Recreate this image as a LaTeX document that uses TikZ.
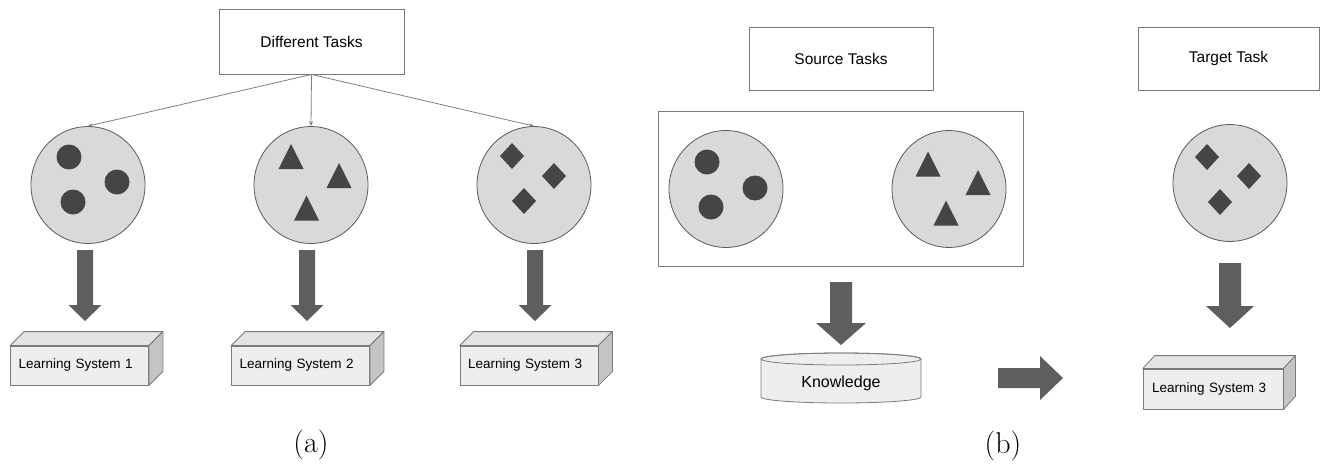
\documentclass[tikz,border=0pt]{standalone}
\usepackage{fontspec}
\newfontfamily\arialfont{Liberation Sans}
\usetikzlibrary{shapes.geometric,arrows.meta}
\definecolor{ellfill}{HTML}{D9D9D9}
\definecolor{ellline}{HTML}{5A5A5A}
\definecolor{shapecol}{HTML}{454545}
\definecolor{arrcol}{HTML}{5E5E5E}
\definecolor{boxline}{HTML}{7A7A7A}
\definecolor{frontfill}{HTML}{EEEEEE}
\definecolor{topfill}{HTML}{E4E4E4}
\definecolor{sidefill}{HTML}{C4C4C4}
\definecolor{thinarr}{HTML}{808080}
\newcommand\mycirc[2]{\fill[shapecol] (#1,#2) circle[radius=12.5];}
\newcommand\mytri[2]{\fill[shapecol] (#1-12.5,#2+12.5) -- (#1,#2-12.5) -- (#1+12.5,#2+12.5) -- cycle;}
\newcommand\mydia[2]{\fill[shapecol] (#1-12,#2) -- (#1,#2-13) -- (#1+12,#2) -- (#1,#2+13) -- cycle;}
% cx, top, tip, shaft half, head half, head length
\newcommand\blockdown[6]{\fill[arrcol] (#1-#4,#2) -- (#1+#4,#2) -- (#1+#4,#3-#6) -- (#1+#5,#3-#6) -- (#1,#3) -- (#1-#5,#3-#6) -- (#1-#4,#3-#6) -- cycle;}
\tikzset{
  titlebox/.style={draw=boxline, line width=0.9pt, fill=white, inner sep=0pt, font=\arialfont\fontsize{15.5}{18}\selectfont},
  taskell/.style={ellipse, draw=ellline, line width=0.8pt, fill=ellfill, inner sep=0pt, minimum width=114, minimum height=117},
  lsfront/.style={draw=boxline, line width=0.8pt, fill=frontfill, inner xsep=8pt, inner ysep=0pt, minimum height=39, text width=122pt, align=left, font=\arialfont\fontsize{13.5}{16}\selectfont},
  lsface/.style={draw=boxline, line width=0.8pt, line join=round},
  thin/.style={draw=thinarr, line width=0.8pt, -{Stealth[length=5pt,width=4pt]}},
  sublabel/.style={font=\fontsize{30}{36}\selectfont}
}
\begin{document}
\begin{tikzpicture}[x=1pt,y=-1pt]
\useasboundingbox (0,0) rectangle (1321,469);
% ---------- (a) ----------
\node[titlebox, minimum width=185, minimum height=65] (dt) at (311.5,41.5) {Different Tasks};
\node[taskell] (e1) at (88,185) {};
\node[taskell] (e2) at (311,185) {};
\node[taskell] (e3) at (534,185) {};
\draw[thin] (dt.south) -- (e1.north);
\draw[thin] (dt.south) -- (e2.north);
\draw[thin] (dt.south) -- (e3.north);
\mycirc{69}{157}\mycirc{117}{182}\mycirc{73}{202}
\mytri{291}{156.5}\mytri{339}{175.5}\mytri{306.5}{208}
\mydia{512}{156}\mydia{554}{176}\mydia{524}{201}
\blockdown{85}{250}{321}{8}{16.5}{16}
\blockdown{307}{250}{321}{8}{16.5}{16}
\blockdown{535}{250}{321}{8}{16.5}{16}
\node[lsfront, minimum width=137] (ls1) at (79.5,365.5) {Learning System 1};
\node[lsfront, minimum width=137] (ls2) at (300.5,365.5) {Learning System 2};
\node[lsfront, minimum width=138] (ls3) at (529,365.5) {Learning System 3};
\foreach \n in {ls1,ls2,ls3}{
  \filldraw[lsface, fill=topfill] (\n.north west) -- ++(14,-14) -- ([shift={(14,-14)}]\n.north east) -- (\n.north east) -- cycle;
  \filldraw[lsface, fill=sidefill] (\n.north east) -- ++(14,-14) -- ([shift={(14,-14)}]\n.south east) -- (\n.south east) -- cycle;
}
\node[sublabel] (la) at (311,445) {(a)};
% ---------- (b) ----------
\node[titlebox, minimum width=184, minimum height=63] (st) at (841,58.5) {Source Tasks};
\node[titlebox, minimum width=181, minimum height=63] (tt) at (1228.5,58.5) {Target Task};
\node[draw=boxline, line width=1pt, minimum width=365, minimum height=155, inner sep=0pt] (src) at (840.5,188.5) {};
\node[taskell] (e4) at (726,189) {};
\node[taskell] (e5) at (949,189) {};
\node[taskell] (e6) at (1230,183) {};
\mycirc{707}{162}\mycirc{755}{188}\mycirc{711}{207}
\mytri{928}{164}\mytri{978}{182.5}\mytri{946}{213}
\mydia{1207}{157}\mydia{1249}{176}\mydia{1220}{202}
\blockdown{841}{282}{345}{11}{25}{22}
\blockdown{1230}{263}{328}{11}{24}{22}
% knowledge cylinder
\filldraw[lsface, fill=frontfill] (761,359) -- (761,397) arc[start angle=180,end angle=0,x radius=80,y radius=6] -- (921,359) arc[start angle=0,end angle=-180,x radius=80,y radius=6] -- cycle;
\draw[lsface] (841,359) ellipse[x radius=80,y radius=6];
\node[font=\arialfont\fontsize{16}{19}\selectfont] (kn) at (841,383) {Knowledge};
% horizontal block arrow
\fill[arrcol] (998,368) -- (1040,368) -- (1040,356) -- (1063,378) -- (1040,400) -- (1040,388) -- (998,388) -- cycle;
\node[lsfront, minimum width=140, minimum height=40] (ls4) at (1213,389) {Learning System 3};
\filldraw[lsface, fill=topfill] (ls4.north west) -- ++(12,-13) -- ([shift={(12,-13)}]ls4.north east) -- (ls4.north east) -- cycle;
\filldraw[lsface, fill=sidefill] (ls4.north east) -- ++(12,-13) -- ([shift={(12,-13)}]ls4.south east) -- (ls4.south east) -- cycle;
\node[sublabel] (lb) at (1003,446) {(b)};
\end{tikzpicture}
\end{document}
